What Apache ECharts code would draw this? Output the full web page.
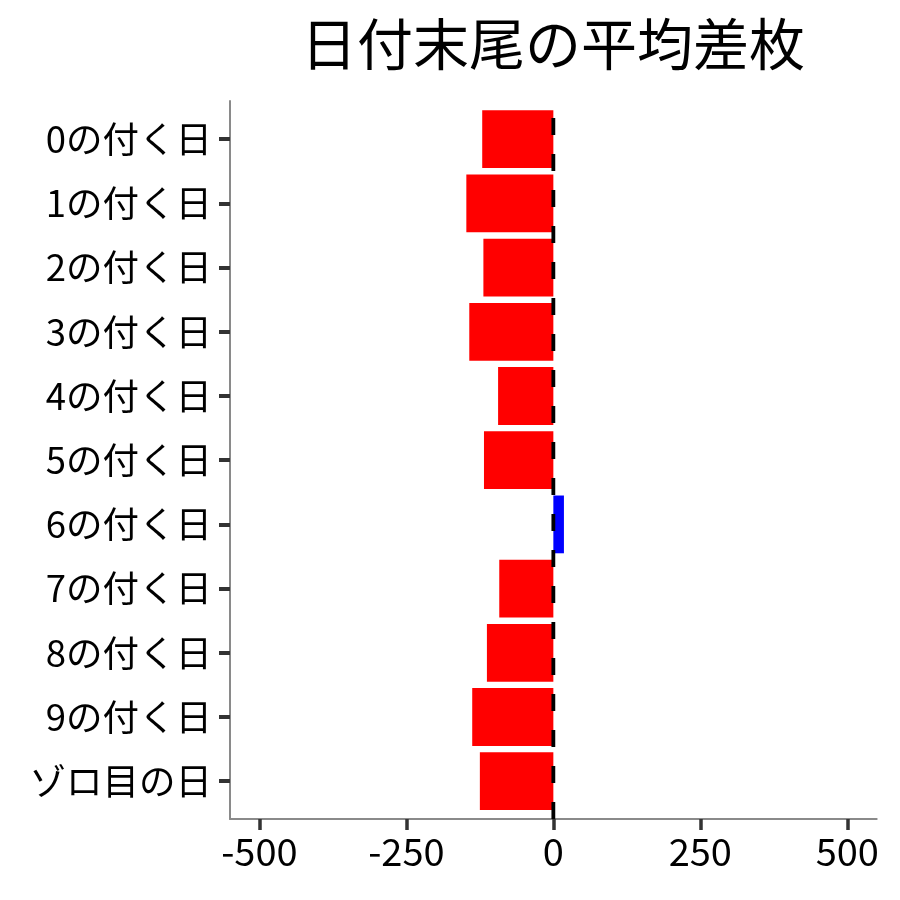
<!DOCTYPE html>
<html>
<head>
<meta charset="utf-8">
<script src="https://cdn.jsdelivr.net/npm/echarts@6/dist/echarts.min.js"></script>
<style>
html,body{margin:0;padding:0;background:#fff;}
#chart{width:900px;height:900px;}
</style>
</head>
<body>
<div id="chart"></div>
<script>
const titleText = '日付末尾の平均差枚';
const categories = ['0の付く日','1の付く日','2の付く日','3の付く日','4の付く日','5の付く日','6の付く日','7の付く日','8の付く日','9の付く日','ゾロ目の日'];
const values = [-121, -148, -119, -143, -94, -118, 18, -92, -113, -138, -125];
const xTicks = [-500, -250, 0, 250, 500];
const xMin = -550, xMax = 550;
const zeroLine = [[0, 0], [0, 1]];

const FONT = 'Noto Sans CJK JP';
const chart = echarts.init(document.getElementById('chart'), null, {renderer: 'canvas'});
chart.setOption({
  backgroundColor: '#ffffff',
  animation: false,
  title: {
    text: titleText,
    left: 548,
    textAlign: 'center',
    top: 11,
    textStyle: {fontFamily: FONT, fontSize: 56, fontWeight: 'normal', color: '#000'}
  },
  grid: [
    {left: 230, right: 23.3, top: 101, bottom: 81, containLabel: false},
    {left: 230, right: 23.3, top: 107.1, bottom: 86.7, containLabel: false}
  ],
  xAxis: [
    {
      gridIndex: 0, type: 'value', min: xMin, max: xMax,
      axisLine: {show: true, onZero: false, lineStyle: {color: '#8a8a8a', width: 2}},
      axisTick: {show: true, customValues: xTicks, length: 11, lineStyle: {color: '#333', width: 3.5}},
      axisLabel: {show: true, customValues: xTicks, fontFamily: FONT, fontSize: 38, color: '#000', margin: 14},
      splitLine: {show: false}
    },
    {
      gridIndex: 1, type: 'value', min: xMin, max: xMax, show: false,
      splitLine: {show: false}
    }
  ],
  yAxis: [
    {
      gridIndex: 0, type: 'value', min: 0, max: 1,
      axisLine: {show: true, onZero: false, lineStyle: {color: '#8a8a8a', width: 2}},
      axisTick: {show: false}, axisLabel: {show: false}, splitLine: {show: false}
    },
    {
      gridIndex: 1, type: 'category', data: categories, inverse: true, position: 'left',
      axisLine: {show: false, onZero: false},
      axisTick: {show: true, alignWithLabel: true, length: 11, lineStyle: {color: '#333', width: 4}},
      axisLabel: {fontFamily: FONT, fontSize: 36.5, color: '#000', margin: 18},
      splitLine: {show: false}
    }
  ],
  series: [
    {
      type: 'bar', xAxisIndex: 1, yAxisIndex: 1,
      data: values, barWidth: '90%',
      itemStyle: {color: p => p.value < 0 ? '#ff0000' : '#0000ff'},
      silent: true, z: 2
    },
    {
      type: 'line', xAxisIndex: 0, yAxisIndex: 0,
      data: zeroLine, symbol: 'none', silent: true, z: 5,
      lineStyle: {color: '#000', width: 3.8, type: [17, 19]}
    }
  ]
});
</script>
</body>
</html>
